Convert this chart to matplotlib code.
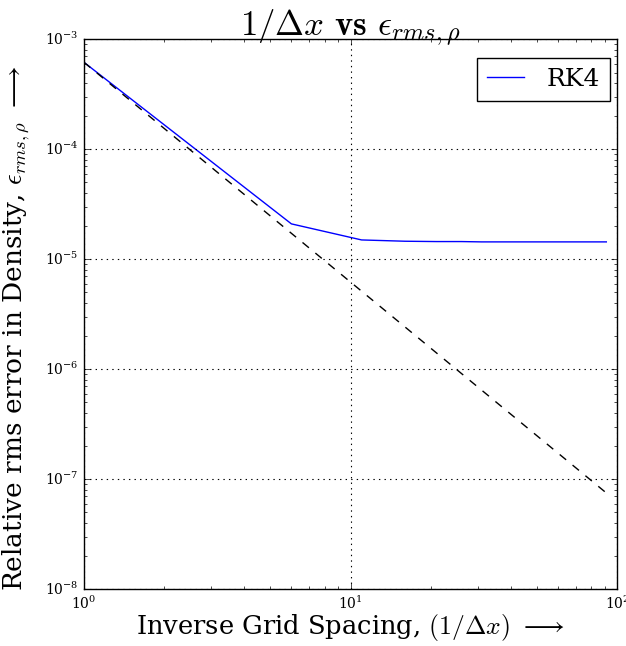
import numpy as np
import matplotlib
matplotlib.use('Agg')
import matplotlib.pyplot as plt

plt.style.use('classic')
plt.rcParams['font.family'] = 'DejaVu Serif'
plt.rcParams['mathtext.fontset'] = 'cm'

# Inverse grid spacing and rms density error (RK4)
inv_dx = [1, 6, 11, 16, 21, 26, 31, 36, 41, 46, 51, 56, 61, 66, 71, 76, 81, 86, 91]
err_rk4 = [6.2e-4, 2.1e-5, 1.5e-5, 1.46e-5, 1.45e-5, 1.45e-5, 1.44e-5, 1.44e-5,
           1.44e-5, 1.44e-5, 1.44e-5, 1.44e-5, 1.44e-5, 1.44e-5, 1.44e-5,
           1.44e-5, 1.44e-5, 1.44e-5, 1.44e-5]

# second order reference line endpoints
ref_x = [1, 91]
ref_y = [6.2e-4, 7.5e-8]

fig = plt.figure(figsize=(6.26, 6.46), dpi=100, facecolor='white')
ax = fig.add_axes([0.134, 0.088, 0.852, 0.851])

ax.loglog(inv_dx, err_rk4, color='b', lw=1, label='RK4')
ax.loglog(ref_x, ref_y, color='k', ls='--', lw=1)

ax.set_xlim(1, 100)
ax.set_ylim(1e-8, 1e-3)
ax.grid(True, which='major', color='k', ls=':', lw=0.8)
ax.tick_params(labelsize=10)

ax.set_title(r'$1/\Delta x$ $\mathbf{vs}$ $\epsilon_{rms,\rho}$', fontsize=25, y=0.995)
ax.set_xlabel(r'Inverse Grid Spacing, $(1/\Delta x)$ $\longrightarrow$', fontsize=18.5, labelpad=0)
ax.set_ylabel(r'Relative rms error in Density, $\epsilon_{rms,\rho}$ $\longrightarrow$', fontsize=19)
ax.yaxis.set_label_coords(-0.098, 0.475)

leg = ax.legend(loc='upper right', fontsize=18, numpoints=1, handlelength=1.5,
                borderaxespad=0.0, handletextpad=0.9,
                bbox_to_anchor=(0.987, 0.967))
leg.get_frame().set_linewidth(1.0)

fig.savefig('out.png', dpi=100, facecolor='white')
